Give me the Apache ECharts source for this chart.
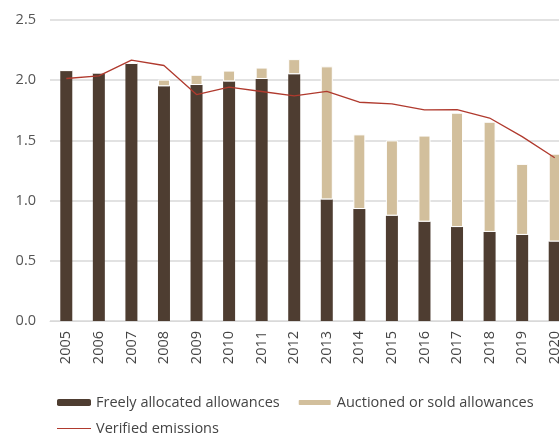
<!DOCTYPE html>
<html><head><meta charset="utf-8">
<script src="https://cdn.jsdelivr.net/npm/echarts@6/dist/echarts.min.js"></script>
<style>html,body{margin:0;padding:0;background:#fff}#c{width:559px;height:436px}</style>
</head><body><div id="c"></div>
<script>
const years = ['2005','2006','2007','2008','2009','2010','2011','2012','2013','2014','2015','2016','2017','2018','2019','2020'];
const freelyAllocated = [2.08,2.06,2.14,1.95,1.96,1.99,2.01,2.05,1.01,0.93,0.875,0.825,0.78,0.74,0.715,0.66];
const auctionedSold = [0,0,0,0.055,0.085,0.09,0.095,0.125,1.105,0.62,0.625,0.715,0.95,0.915,0.59,0.73];
const verifiedEmissions = [2.014,2.036,2.167,2.122,1.881,1.942,1.906,1.869,1.908,1.817,1.803,1.753,1.756,1.686,1.531,1.356];
const yTicks = ['0.0','0.5','1.0','1.5','2.0','2.5'];

const font = 'Open Sans';
const chart = echarts.init(document.getElementById('c'));
chart.setOption({
  animation:false,
  textStyle:{fontFamily:font},
  grid:{left:50,width:521,top:20,height:301,containLabel:false,outerBoundsMode:'none'},
  legend:[{
    show:true,
    left:52, top:390,
    itemWidth:34, itemHeight:7, itemGap:17,
    textStyle:{fontFamily:font,fontSize:14.5,color:'#444'},
    data:['Freely allocated allowances','Auctioned or sold allowances']
  },{
    show:true,
    left:52, top:416,
    itemWidth:34, itemHeight:7,
    textStyle:{fontFamily:font,fontSize:14.5,color:'#444'},
    data:[{name:'Verified emissions', icon:'path://M0,0 L34,0 L34,1.2 L0,1.2 Z'}]
  }],
  xAxis:{
    type:'category', data:years,
    axisLine:{lineStyle:{color:'#d9d9d9',width:1}},
    axisTick:{show:false},
    axisLabel:{rotate:90,fontSize:14.5,color:'#444',margin:10,fontFamily:font}
  },
  yAxis:{
    type:'value', min:0, max:2.5, interval:0.5,
    axisLine:{show:false}, axisTick:{show:false},
    splitLine:{lineStyle:{color:'#d9d9d9',width:1.5}},
    axisLabel:{fontSize:14.5,color:'#555',margin:14,fontFamily:font,
      formatter:(v)=>yTicks[Math.round(v/0.5)]}
  },
  series:[
    {name:'Freely allocated allowances',type:'bar',stack:'a',data:freelyAllocated,barWidth:12,
     itemStyle:{color:'#4e3d31'}},
    {name:'Auctioned or sold allowances',type:'bar',stack:'a',data:auctionedSold,barWidth:12,
     itemStyle:{color:'#d2bf9c',borderColor:'#fff',borderWidth:1}},
    {name:'Verified emissions',type:'line',data:verifiedEmissions,symbol:'none',
     lineStyle:{color:'#b03a2e',width:1.3},itemStyle:{color:'#b03a2e'}}
  ]
});
</script></body></html>
